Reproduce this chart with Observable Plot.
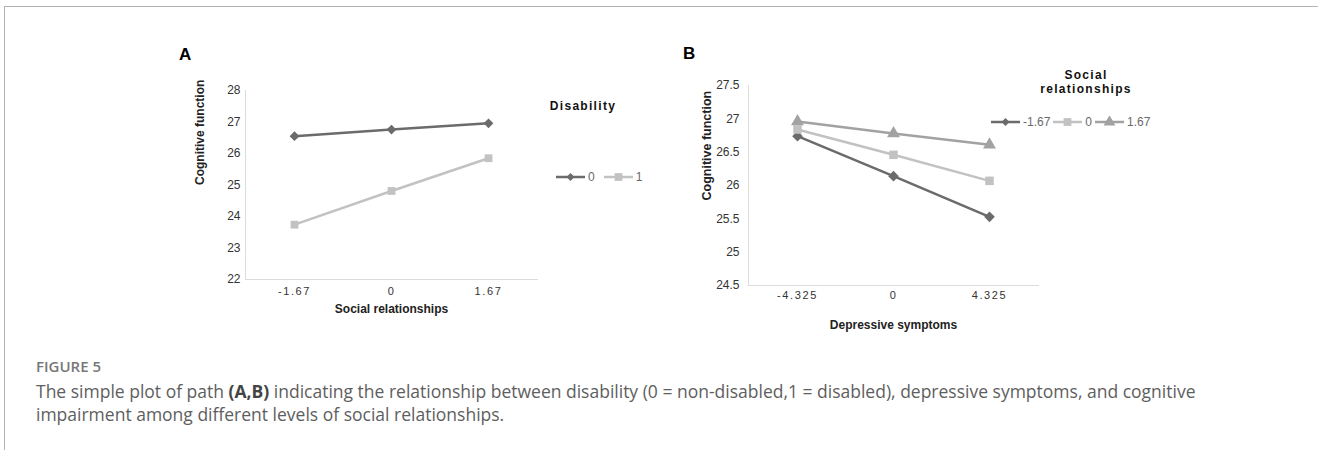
<!DOCTYPE html>
<html>
<head>
<meta charset="utf-8">
<script src="https://cdn.jsdelivr.net/npm/d3@7"></script>
<script src="https://cdn.jsdelivr.net/npm/@observablehq/plot@0.6"></script>
<style>
  body { margin: 0; background: #fff; }
  #root { position: relative; width: 1318px; height: 450px; overflow: hidden; font-family: "Liberation Sans", Arial, sans-serif; }
  .frame-top { position: absolute; left: 4px; top: 6px; width: 1314px; height: 0; border-top: 1.5px solid #b3b3b3; }
  .frame-left { position: absolute; left: 4px; top: 6px; width: 0; height: 444px; border-left: 1.5px solid #b3b3b3; }
  .panel-letter { position: absolute; font: bold 17px/17px "Liberation Sans", Arial, sans-serif; color: #000; }
  .chart { position: absolute; }
  .legend-title { position: absolute; font: bold 12px/14px "Liberation Sans", Arial, sans-serif; letter-spacing: 1.3px; color: #111; text-align: center; }
  .legend { position: absolute; display: flex; align-items: center; height: 12px; font: 12px/12px "Liberation Sans", Arial, sans-serif; color: #6a6a6a; }
  .legend .item { display: flex; align-items: center; }
  .legend .item svg { display: block; }
  .legend .item span { margin-left: 3px; }
  svg.chartA g[aria-label="x-axis tick label"] text,
  svg.chartB g[aria-label="x-axis tick label"] text { letter-spacing: 1.6px; }
  .fig-label { position: absolute; left: 36px; top: 359px; font: 600 15px/15px "Open Sans", sans-serif; color: #777; }
  .caption { position: absolute; left: 36px; top: 380px; font: 17.5px/23px "Open Sans", sans-serif; color: #5e5e5e; white-space: nowrap; }
  .caption b { font-weight: 700; color: #444; }
</style>
</head>
<body>
<div id="root">
  <div class="frame-top"></div>
  <div class="frame-left"></div>
  <div class="panel-letter" style="left:179px; top:46px;">A</div>
  <div class="panel-letter" style="left:683px; top:45px;">B</div>
  <div id="chartA" class="chart" style="left:150px; top:60px;"></div>
  <div id="chartB" class="chart" style="left:620px; top:55px;"></div>
  <div class="legend-title" style="left:540px; top:99px; width:86px;">Disability</div>
  <div id="legendA" class="legend" style="left:556px; top:171px;"></div>
  <div class="legend-title" style="left:1030px; top:68px; width:112px;">Social<br>relationships</div>
  <div id="legendB" class="legend" style="left:991px; top:116px;"></div>
  <div class="fig-label">FIGURE 5</div>
  <div class="caption">The simple plot of path <b>(A,B)</b> indicating the relationship between disability (0 = non-disabled,1 = disabled), depressive symptoms, and cognitive<br>impairment among different levels of social relationships.</div>
</div>
<script>
// ---------- Panel A data ----------
const xTicksA = ["-1.67", "0", "1.67"];            // Social relationships
const disabilityLevels = ["0", "1"];
const cognitionDisab0 = [26.55, 26.76, 26.96];
const cognitionDisab1 = [23.74, 24.81, 25.85];
const yTicksA = [22, 23, 24, 25, 26, 27, 28];

// ---------- Panel B data ----------
const xTicksB = ["-4.325", "0", "4.325"];          // Depressive symptoms
const socialLevels = ["-1.67", "0", "1.67"];
const cognitionSocLow = [26.74, 26.14, 25.53];
const cognitionSocMid = [26.84, 26.46, 26.07];
const cognitionSocHigh = [26.96, 26.78, 26.61];
const yTicksB = [24.5, 25, 25.5, 26, 26.5, 27, 27.5];

// ---------- styling ----------
const colorsA = ["#6b6b6b", "#c2c2c2"];
const symbolsA = ["diamond2", "square"];
const colorsB = ["#6b6b6b", "#c2c2c2", "#a2a2a2"];
const symbolsB = ["diamond2", "square", "triangle"];
const axisColor = "#dcdcdc";

const seriesA = [cognitionDisab0, cognitionDisab1];
const dataA = disabilityLevels.flatMap((s, i) => xTicksA.map((x, j) => ({x, y: seriesA[i][j], s})));
const seriesB = [cognitionSocLow, cognitionSocMid, cognitionSocHigh];
const dataB = socialLevels.flatMap((s, i) => xTicksB.map((x, j) => ({x, y: seriesB[i][j], s})));

const baseStyle = {fontFamily: "Liberation Sans, Arial, sans-serif", fontSize: "12px", color: "#333", background: "transparent", overflow: "visible"};

const chartA = Plot.plot({
  className: "chartA",
  width: 400, height: 270,
  marginLeft: 95, marginRight: 13, marginTop: 30, marginBottom: 51,
  style: baseStyle,
  x: {type: "point", domain: xTicksA, padding: 0.5},
  y: {domain: [22, 28]},
  color: {domain: disabilityLevels, range: colorsA},
  symbol: {domain: disabilityLevels, range: symbolsA},
  marks: [
    Plot.frame({anchor: "left", stroke: axisColor}),
    Plot.frame({anchor: "bottom", stroke: axisColor}),
    Plot.axisY({ticks: yTicksA, tickSize: 0, tickPadding: 5, label: null, tickFormat: d => String(d), fontSize: 12, fill: "#333"}),
    Plot.axisX({tickSize: 0, tickPadding: 8, label: null, fontSize: 11, fill: "#333"}),
    Plot.text(["Cognitive function"], {text: d => d, frameAnchor: "left", dx: -45, rotate: -90, fontWeight: "bold", fontSize: 12, fill: "#222"}),
    Plot.text(["Social relationships"], {text: d => d, frameAnchor: "bottom", dy: 33, fontWeight: "bold", fontSize: 12, fill: "#222"}),
    Plot.line(dataA, {x: "x", y: "y", z: "s", stroke: "s", strokeWidth: 2.5}),
    Plot.dot(dataA, {x: "x", y: "y", symbol: "s", fill: "s", r: 4.4})
  ]
});
document.getElementById("chartA").appendChild(chartA);

const chartB = Plot.plot({
  className: "chartB",
  width: 430, height: 290,
  marginLeft: 128, marginRight: 12, marginTop: 30, marginBottom: 60,
  style: baseStyle,
  x: {type: "point", domain: xTicksB, padding: 0.5},
  y: {domain: [24.5, 27.5]},
  color: {domain: socialLevels, range: colorsB},
  symbol: {domain: socialLevels, range: symbolsB},
  marks: [
    Plot.frame({anchor: "left", stroke: axisColor}),
    Plot.frame({anchor: "bottom", stroke: axisColor}),
    Plot.axisY({ticks: yTicksB, tickSize: 0, tickPadding: 9, label: null, tickFormat: d => String(d), fontSize: 12, fill: "#333"}),
    Plot.axisX({tickSize: 0, tickPadding: 6, label: null, fontSize: 11, fill: "#333"}),
    Plot.text(["Cognitive function"], {text: d => d, frameAnchor: "left", dx: -42, dy: 15, rotate: -90, fontWeight: "bold", fontSize: 12.5, fill: "#222"}),
    Plot.text(["Depressive symptoms"], {text: d => d, frameAnchor: "bottom", dy: 43, fontWeight: "bold", fontSize: 12, fill: "#222"}),
    Plot.line(dataB, {x: "x", y: "y", z: "s", stroke: "s", strokeWidth: 2.5}),
    Plot.dot(dataB, {x: "x", y: "y", symbol: "s", fill: "s", r: 4.8})
  ]
});
document.getElementById("chartB").appendChild(chartB);

// ---------- legends ----------
const symbolMap = {diamond2: d3.symbolDiamond2, square: d3.symbolSquare, triangle: d3.symbolTriangle};
function buildLegend(id, labels, colors, symbols, gap) {
  const root = d3.select("#" + id).style("gap", gap + "px");
  labels.forEach((lab, i) => {
    const item = root.append("div").attr("class", "item");
    const svg = item.append("svg").attr("width", 29).attr("height", 12);
    svg.append("line").attr("x1", 0).attr("x2", 29).attr("y1", 6).attr("y2", 6)
      .attr("stroke", colors[i]).attr("stroke-width", 2.5);
    svg.append("path").attr("transform", "translate(14.5,6)")
      .attr("d", d3.symbol(symbolMap[symbols[i]], symbols[i] === "diamond2" ? 40 : 60)())
      .attr("fill", colors[i]);
    item.append("span").text(lab);
  });
}
buildLegend("legendA", disabilityLevels, colorsA, symbolsA, 9);
buildLegend("legendB", socialLevels, colorsB, symbolsB, 3);
</script>
</body>
</html>
